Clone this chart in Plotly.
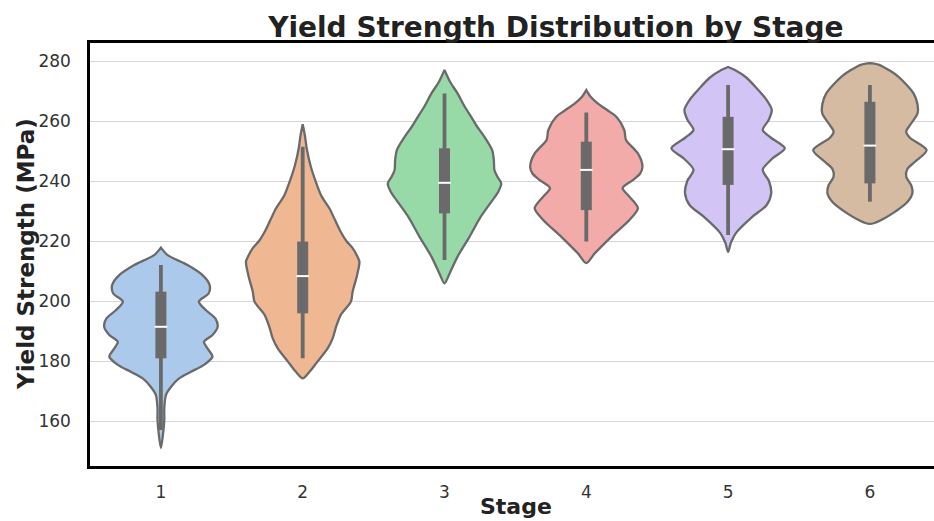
import colorsys
import plotly.graph_objects as go

# Stage labels
stages = ["1", "2", "3", "4", "5", "6"]

# Estimated density profiles per stage: (yield strength in MPa, relative density 0..1), top to bottom
profile_1 = [(217.8, 0), (215.3, 0.12), (212.0, 0.47), (208.7, 0.73), (205.3, 0.86), (202.5, 0.84),
             (199.8, 0.67), (197.0, 0.79), (194.2, 0.96), (191.4, 1.0), (188.7, 0.91), (186.4, 0.76),
             (183.7, 0.84), (181.5, 0.91), (178.7, 0.76), (176.4, 0.53), (174.2, 0.32), (171.4, 0.18),
             (168.7, 0.09), (164.3, 0.06), (160.4, 0.06), (155.3, 0.035), (151.0, 0)]
profile_2 = [(258.9, 0), (255.0, 0.04), (250.9, 0.07), (245.0, 0.14), (239.8, 0.23), (235.0, 0.33),
             (230.9, 0.47), (227.0, 0.57), (223.1, 0.67), (220.0, 0.77), (217.6, 0.88), (215.0, 0.96),
             (213.1, 1.0), (208.7, 0.96), (203.1, 0.88), (199.8, 0.85), (195.3, 0.67), (190.9, 0.58),
             (187.6, 0.53), (184.2, 0.44), (179.8, 0.26), (176.4, 0.12), (174.2, 0)]
profile_3 = [(277.0, 0), (273.0, 0.1), (269.2, 0.23), (265.0, 0.35), (261.4, 0.47), (258.0, 0.58),
             (254.8, 0.7), (250.3, 0.84), (247.0, 0.87), (243.7, 0.88), (241.5, 0.93), (239.2, 1.0),
             (236.5, 0.95), (233.7, 0.85), (228.1, 0.64), (221.4, 0.44), (214.8, 0.23), (209.2, 0.09),
             (205.9, 0)]
profile_4 = [(270.3, 0), (268.0, 0.08), (265.9, 0.2), (263.5, 0.38), (261.4, 0.53), (257.0, 0.67),
             (253.7, 0.7), (249.2, 0.91), (244.8, 0.99), (242.5, 0.95), (240.3, 0.82), (237.6, 0.64),
             (234.8, 0.76), (230.9, 0.91), (227.0, 0.76), (221.4, 0.44), (215.9, 0.15), (212.6, 0)]
profile_5 = [(278.0, 0), (277.0, 0.12), (274.5, 0.32), (271.0, 0.5), (267.0, 0.68), (263.7, 0.77),
             (260.5, 0.72), (257.0, 0.61), (254.5, 0.75), (250.9, 1.0), (247.5, 0.78), (243.7, 0.61),
             (240.0, 0.72), (236.0, 0.76), (232.0, 0.68), (228.1, 0.43), (222.7, 0.14), (219.5, 0.05),
             (216.4, 0)]
profile_6 = [(279.3, 0), (278.8, 0.15), (276.8, 0.35), (274.8, 0.5), (272.0, 0.65), (269.2, 0.77),
             (265.5, 0.84), (262.5, 0.84), (259.0, 0.72), (256.5, 0.64), (254.5, 0.7), (250.3, 1.0),
             (246.5, 0.8), (244.0, 0.66), (241.4, 0.64), (238.5, 0.73), (236.0, 0.75), (233.0, 0.66),
             (229.2, 0.4), (227.0, 0.2), (226.0, 0.08), (225.7, 0)]
profiles = [profile_1, profile_2, profile_3, profile_4, profile_5, profile_6]

# Box summary per stage (MPa)
q1 = [180.9, 195.9, 229.2, 230.3, 238.7, 239.2]
median = [191.4, 208.3, 239.4, 243.7, 250.6, 251.8]
q3 = [203.1, 219.8, 250.9, 253.1, 261.4, 266.4]
whisker_low = [157.0, 180.9, 213.7, 219.8, 222.0, 233.1]
whisker_high = [212.0, 251.4, 269.2, 262.8, 272.0, 272.0]

y_ticks = [160, 180, 200, 220, 240, 260, 280]

# Pastel palette, desaturated as a statistical plotting library would do
pastel = ["#a1c9f4", "#ffb482", "#8de5a1", "#ff9f9b", "#d0bbff", "#debb9b"]


def desaturate(hex_color, factor=0.75):
    r, g, b = (int(hex_color[i:i + 2], 16) / 255 for i in (1, 3, 5))
    h, l, s = colorsys.rgb_to_hls(r, g, b)
    r, g, b = colorsys.hls_to_rgb(h, l, s * factor)
    return "#{:02x}{:02x}{:02x}".format(round(r * 255), round(g * 255), round(b * 255))


fills = [desaturate(c) for c in pastel]
edge = "#6a6a6a"
half_width = 0.4

fig = go.Figure()

for i, prof in enumerate(profiles):
    vals = [p[0] for p in prof]
    dens = [p[1] for p in prof]
    # closed outline: right side bottom->top, then left side top->bottom
    xs = [i + half_width * d for d in reversed(dens)] + [i - half_width * d for d in dens]
    ys = list(reversed(vals)) + vals
    fig.add_trace(go.Scatter(
        x=xs, y=ys, mode="lines", fill="toself", fillcolor=fills[i],
        line=dict(color=edge, width=2.3, shape="spline", smoothing=0.8),
        hoverinfo="skip", showlegend=False,
    ))
    # whisker
    fig.add_trace(go.Scatter(
        x=[i, i], y=[whisker_low[i], whisker_high[i]], mode="lines",
        line=dict(color=edge, width=3.8), hoverinfo="skip", showlegend=False,
    ))
    # interquartile box
    fig.add_trace(go.Scatter(
        x=[i, i], y=[q1[i], q3[i]], mode="lines",
        line=dict(color=edge, width=11), hoverinfo="skip", showlegend=False,
    ))
    # median tick
    fig.add_trace(go.Scatter(
        x=[i], y=[median[i]], mode="markers",
        marker=dict(symbol="line-ew", size=9, line=dict(color="white", width=2)),
        hoverinfo="skip", showlegend=False,
    ))

font_family = "DejaVu Sans, Liberation Sans, sans-serif"

fig.update_layout(
    width=934, height=521,
    margin=dict(l=90, r=0, t=43, b=55),
    paper_bgcolor="white", plot_bgcolor="white",
    font=dict(family=font_family, color="#262626"),
    title=dict(
        text="<b>Yield Strength Distribution by Stage</b>",
        x=515.5 / 934, xanchor="center", xref="paper",
        y=1 - 27 / 521, yanchor="middle", yref="container",
        font=dict(size=28, color="#222222", family=font_family),
    ),
    xaxis=dict(
        range=[-0.5, -0.5 + 844 / 141.8],
        tickmode="array", tickvals=list(range(len(stages))), ticktext=stages,
        showgrid=False, zeroline=False,
        showline=True, linecolor="black", linewidth=2.5, mirror=True,
        ticks="", ticklabelstandoff=9,
        tickfont=dict(size=17, color="#333333"),
    ),
    yaxis=dict(
        range=[145, 286],
        tickmode="array", tickvals=y_ticks,
        showgrid=True, gridcolor="#d6d6d6", gridwidth=1.2, zeroline=False,
        showline=True, linecolor="black", linewidth=2.5, mirror=False,
        ticks="", ticklabelstandoff=13,
        tickfont=dict(size=17, color="#333333"),
    ),
    annotations=[
        dict(text="<b>Stage</b>", xref="paper", yref="paper",
             x=(515.5 - 90) / 844, y=0, yshift=-(521 - 466), xanchor="center", yanchor="bottom",
             showarrow=False, font=dict(size=22, color="#222222", family=font_family)),
        dict(text="<b>Yield Strength (MPa)</b>", xref="paper", yref="paper",
             x=-64 / 844, y=(466 - 254) / 423, xanchor="center", yanchor="middle", textangle=-90,
             showarrow=False, font=dict(size=23, color="#222222", family=font_family)),
    ],
)

fig.write_html("out.html")
